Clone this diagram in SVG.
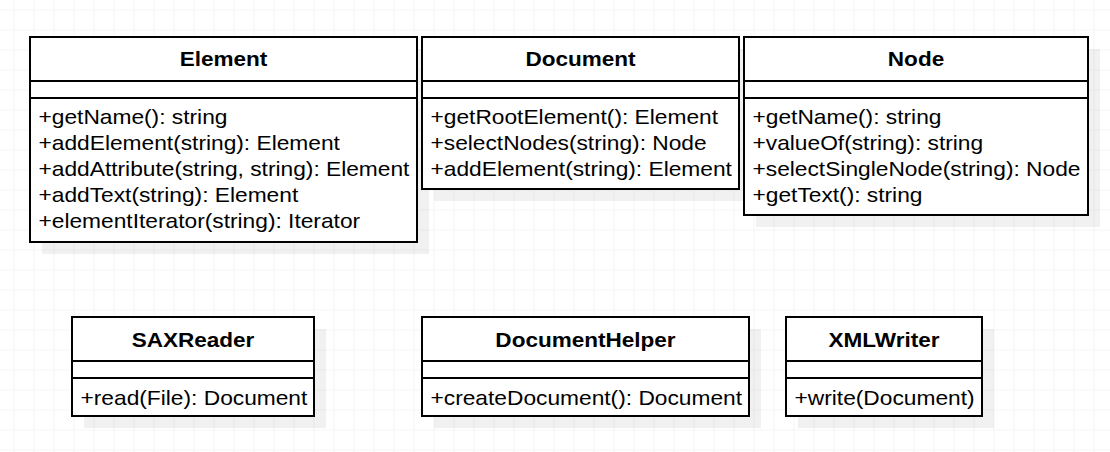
<svg xmlns="http://www.w3.org/2000/svg" width="1110" height="452" viewBox="0 0 1110 452">
<defs>
<pattern id="grid" x="13.5" y="9.5" width="20" height="20" patternUnits="userSpaceOnUse">
<path d="M0 0 H20 M0 0 V20" fill="none" stroke="#ececec" stroke-width="1"/>
</pattern>
</defs>
<style>
.box{fill:#ffffff;stroke:#000000;stroke-width:2}
.sep{stroke:#000000;stroke-width:2}
.shadow{fill:#000000;fill-opacity:0.055}
.title{font-family:"Liberation Sans",Arial,sans-serif;font-size:20.5px;font-weight:bold;text-anchor:middle;fill:#000}
.m{font-family:"Liberation Sans",Arial,sans-serif;font-size:20.5px;fill:#000}
</style>
<rect width="1110" height="452" fill="#ffffff"/>
<rect width="1110" height="452" fill="url(#grid)"/>

<g id="Element">
<rect class="shadow" x="42" y="49" width="387" height="205"/>
<rect class="box" x="30" y="37" width="387" height="205"/>
<line class="sep" x1="30" y1="81" x2="417" y2="81"/>
<line class="sep" x1="30" y1="98" x2="417" y2="98"/>
<text class="title" transform="translate(223.5,66) scale(1.1,1)">Element</text>
<text class="m" transform="translate(38.5,124) scale(1.11,1)">+getName(): string</text>
<text class="m" transform="translate(38.5,150) scale(1.11,1)">+addElement(string): Element</text>
<text class="m" transform="translate(38.5,176) scale(1.11,1)">+addAttribute(string, string): Element</text>
<text class="m" transform="translate(38.5,202) scale(1.11,1)">+addText(string): Element</text>
<text class="m" transform="translate(38.5,228) scale(1.11,1)">+elementIterator(string): Iterator</text>
</g>

<g id="Document">
<rect class="shadow" x="434" y="49" width="317" height="152"/>
<rect class="box" x="422" y="37" width="317" height="152"/>
<line class="sep" x1="422" y1="81" x2="739" y2="81"/>
<line class="sep" x1="422" y1="98" x2="739" y2="98"/>
<text class="title" transform="translate(580.5,66) scale(1.1,1)">Document</text>
<text class="m" transform="translate(430.5,124) scale(1.11,1)">+getRootElement(): Element</text>
<text class="m" transform="translate(430.5,150) scale(1.11,1)">+selectNodes(string): Node</text>
<text class="m" transform="translate(430.5,176) scale(1.11,1)">+addElement(string): Element</text>
</g>

<g id="Node">
<rect class="shadow" x="756" y="49" width="344" height="178"/>
<rect class="box" x="744" y="37" width="344" height="178"/>
<line class="sep" x1="744" y1="81" x2="1088" y2="81"/>
<line class="sep" x1="744" y1="98" x2="1088" y2="98"/>
<text class="title" transform="translate(916,66) scale(1.1,1)">Node</text>
<text class="m" transform="translate(752.5,124) scale(1.11,1)">+getName(): string</text>
<text class="m" transform="translate(752.5,150) scale(1.11,1)">+valueOf(string): string</text>
<text class="m" transform="translate(752.5,176) scale(1.11,1)">+selectSingleNode(string): Node</text>
<text class="m" transform="translate(752.5,202) scale(1.11,1)">+getText(): string</text>
</g>

<g id="SAXReader">
<rect class="shadow" x="84" y="329" width="242" height="99"/>
<rect class="box" x="72" y="317" width="242" height="99"/>
<line class="sep" x1="72" y1="361" x2="314" y2="361"/>
<line class="sep" x1="72" y1="378" x2="314" y2="378"/>
<text class="title" transform="translate(193,347) scale(1.1,1)">SAXReader</text>
<text class="m" transform="translate(80.5,405) scale(1.11,1)">+read(File): Document</text>
</g>

<g id="DocumentHelper">
<rect class="shadow" x="434" y="329" width="327" height="99"/>
<rect class="box" x="422" y="317" width="327" height="99"/>
<line class="sep" x1="422" y1="361" x2="749" y2="361"/>
<line class="sep" x1="422" y1="378" x2="749" y2="378"/>
<text class="title" transform="translate(585.5,347) scale(1.1,1)">DocumentHelper</text>
<text class="m" transform="translate(430.5,405) scale(1.11,1)">+createDocument(): Document</text>
</g>

<g id="XMLWriter">
<rect class="shadow" x="798" y="329" width="196" height="99"/>
<rect class="box" x="786" y="317" width="196" height="99"/>
<line class="sep" x1="786" y1="361" x2="982" y2="361"/>
<line class="sep" x1="786" y1="378" x2="982" y2="378"/>
<text class="title" transform="translate(884,347) scale(1.1,1)">XMLWriter</text>
<text class="m" transform="translate(794.5,405) scale(1.11,1)">+write(Document)</text>
</g>

<g id="connectors"></g>
</svg>
